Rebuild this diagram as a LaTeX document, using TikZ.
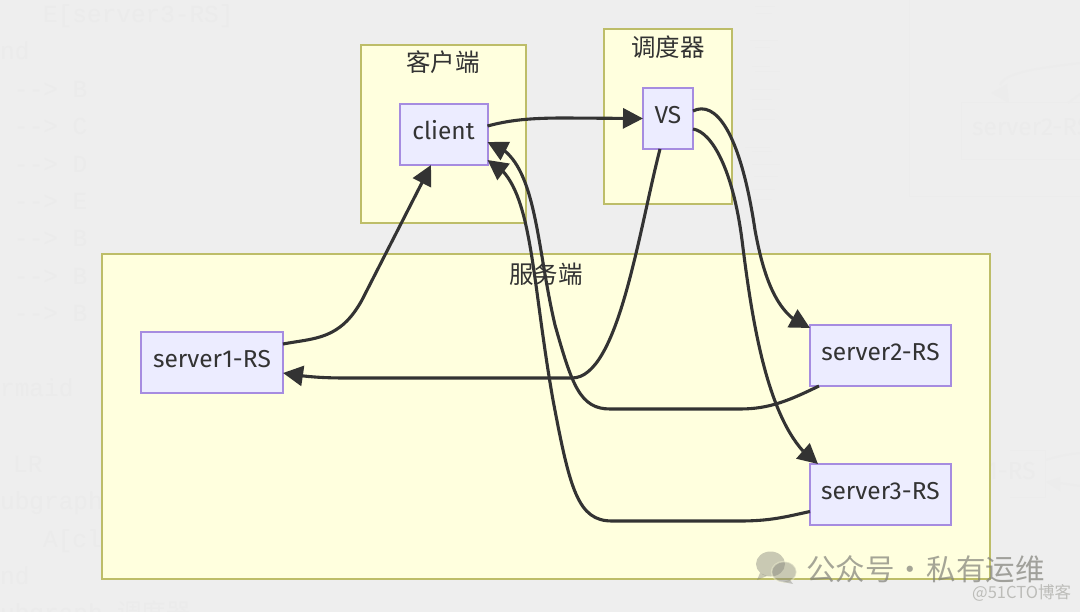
\documentclass[tikz,border=0pt]{standalone}
\usepackage{fontspec}
\setmainfont{Fira Sans}
\setmonofont{Liberation Mono}
\newfontfamily\cjkfont{Noto Sans CJK SC}
\usetikzlibrary{arrows.meta,calc,bending}
\definecolor{pagebg}{HTML}{EEEEEE}
\definecolor{ghost}{HTML}{EBEBEB}
\definecolor{ghostline}{HTML}{ECECEC}
\definecolor{clusterfill}{HTML}{FFFFDE}
\definecolor{clusterline}{HTML}{BDBD68}
\definecolor{nodefill}{HTML}{ECECFF}
\definecolor{nodeline}{HTML}{A68CE0}
\definecolor{ink}{HTML}{333333}
\definecolor{markgray}{HTML}{808078}
\tikzset{
  x=1pt,y=-1pt,
  cluster/.style={draw=clusterline,fill=clusterfill,line width=1.8pt},
  rsbox/.style={draw=nodeline,fill=nodefill,line width=2pt,inner sep=0pt,outer sep=0pt,anchor=north west,
    text=ink,font=\fontsize{24.5}{28}\selectfont,text height=14pt,text depth=4.6pt},
  grouptitle/.style={text=ink,font=\cjkfont\fontsize{24.5}{28}\selectfont,inner sep=0pt},
  link/.style={draw=ink,line width=3.1pt,-{Triangle[length=20pt,width=20pt]}},
  codeline/.style={text=ghost,font=\ttfamily\fontsize{24.4}{28}\selectfont,inner sep=0pt,anchor=base west},
  faintline/.style={draw=ghostline,line width=2pt},
  tinyrow/.style={draw=ghostline,line width=1pt},
}
\begin{document}
\begin{tikzpicture}
\useasboundingbox (0,0) rectangle (1080,612);
\fill[pagebg] (0,0) rectangle (1080,612);

% code listing behind the chart
\node[codeline] (c1) at (43,23) {E[server3-RS]};
\node[codeline] (c2) at (0,60) {nd};
\node[codeline] (c3) at (14,98) {-->\hspace{14.6pt}B};
\node[codeline] (c4) at (14,135) {-->\hspace{14.6pt}C};
\node[codeline] (c5) at (14,173) {-->\hspace{14.6pt}D};
\node[codeline] (c6) at (14,210) {-->\hspace{14.6pt}E};
\node[codeline] (c7) at (14,247) {-->\hspace{14.6pt}B};
\node[codeline] (c8) at (14,285) {-->\hspace{14.6pt}B};
\node[codeline] (c9) at (14,322) {-->\hspace{14.6pt}B};
\node[codeline] (c10) at (0,397) {rmaid};
\node[codeline] (c11) at (13,472) {LR};
\node[codeline] (c12) at (0,509) {ubgraph};
\node[codeline] (c13) at (43,547) {A[client]};
\node[codeline] (c14) at (0,584) {nd};
\node[codeline] (c15) at (0,621) {ubgraph {\cjkfont 调度器}};

% small rows of the far listing
\foreach \yy/\xa/\xb in {7/755/775,14/756/772,41/750/778,48/755/770,67/752/770,72/755/780,90/750/780,100/752/772,110/752/775,120/752/775,148/745/770,152/752/772,165/752/780,177/754/778,190/752/775,200/752/772}
  \draw[tinyrow] (\xa,\yy) -- (\xb,\yy);

% faint chart on the right
\draw[draw=ghostline,line width=1pt] (909,0) -- (909,197) -- (1080,197);
\draw[draw=ghostline,line width=1pt] (1080,103) -- (961,103) -- (961,160) -- (1080,160);
\node[text=ghost,inner sep=0pt,anchor=base west,font=\fontsize{24.5}{28}\selectfont] (g1) at (972,136) {server2-RS};
\coordinate (g2) at (1080,63);
\coordinate (g3) at (1000,85);
\draw[faintline] (g2) .. controls (1040,68) and (1005,72) .. (g3);
\fill[ghostline] (991,93) -- (1007,84) -- (1009,103) -- cycle;
\draw[faintline] (1068,103) -- (1080,94);
\draw[draw=ghostline,line width=1pt] (1010,451) -- (1045,451) -- (1045,497) -- (1010,497);
\node[text=ghost,inner sep=0pt,anchor=base east,font=\fontsize{24.5}{28}\selectfont] (g4) at (1036,479) {r1-RS};
\draw[faintline] (1046,460) .. controls (1058,456) and (1070,454) .. (1080,453);
\draw[faintline] (1060,483) -- (1080,486);
\fill[ghostline] (1046,482) -- (1060,477) -- (1060,491) -- cycle;

% subgraph frames
\draw[cluster] (102,254) rectangle (990,579);
\draw[cluster] (361,45) rectangle (526,223);
\draw[cluster] (604,29) rectangle (732,204);
\node[grouptitle] (tclient) at (443,62) {客户端};
\node[grouptitle] (tsched) at (668,47) {调度器};
\node[grouptitle] (tserver) at (546,274) {服务端};

% chart boxes
\node[rsbox,minimum width=88pt,minimum height=61pt] (client) at (399.5,104) {client};
\node[rsbox,minimum width=50pt,minimum height=61pt] (vs) at (643,88) {VS};
\node[rsbox,minimum width=142pt,minimum height=61pt] (rs1) at (141,332) {server1-RS};
\node[rsbox,minimum width=141pt,minimum height=61pt] (rs2) at (810,325) {server2-RS};
\node[rsbox,minimum width=141pt,minimum height=61pt] (rs3) at (810,464) {server3-RS};

% traffic between the boxes
\draw[link] ([yshift=8.5pt]client.east) .. controls (510,120) and (530,118) .. (565,118) -- (vs.west);
\draw[link] ([xshift=17pt]vs.south west) .. controls (638,235) and (618,378) .. (572,378)
  -- (345,378) .. controls (325,378) and (305,377) .. ([yshift=-10.5pt]rs1.east);
\draw[link] ([yshift=18.5pt]rs1.east) .. controls (315,338) and (340,340) .. (362,300)
  -- ([xshift=-12.5pt]client.south);
\draw[link] ([yshift=7.5pt]vs.east) .. controls (715,100) and (740,130) .. (755,230)
  .. controls (765,285) and (780,318) .. ([yshift=-3pt]rs2.north west);
\draw[link] ([yshift=-10.5pt]vs.east) .. controls (712,132) and (733,170) .. (742,240)
  .. controls (752,320) and (768,432) .. ([xshift=8pt]rs3.north west);
\draw[link] ([xshift=9pt]rs2.south west) .. controls (790,400) and (770,409) .. (740,409)
  -- (610,409) .. controls (580,409) and (572,385) .. (555,325)
  .. controls (535,240) and (537,155) .. ([yshift=-7.5pt]client.east);
\draw[link] ([yshift=-17pt]rs3.west) .. controls (785,517) and (770,521) .. (740,521)
  -- (612,521) .. controls (578,521) and (570,490) .. (553,400)
  .. controls (530,270) and (533,180) .. ([yshift=-25.5pt]client.east);

% account watermark
\begin{scope}[opacity=0.42]
  \fill[markgray] (770.5,564) ellipse (14.5 and 12.5);
  \fill[markgray] (760,573) -- (757,580) -- (767,576) -- cycle;
  \draw[draw=clusterfill,line width=1.4pt,fill=markgray] (784,572) ellipse (12.5 and 10.5);
  \fill[markgray] (790,580) -- (793,584) -- (783,582) -- cycle;
\end{scope}
\node[text=markgray,opacity=0.7,inner sep=0pt,anchor=west,font=\cjkfont\fontsize{29.5}{32}\selectfont] (wm) at (806,569) {公众号\makebox[32pt]{·}私有运维};
\node[text=markgray,opacity=0.45,inner sep=0pt,anchor=west,font=\cjkfont\fontsize{16.5}{18}\selectfont] (blog) at (972,593) {@51CTO博客};
\end{tikzpicture}
\end{document}
